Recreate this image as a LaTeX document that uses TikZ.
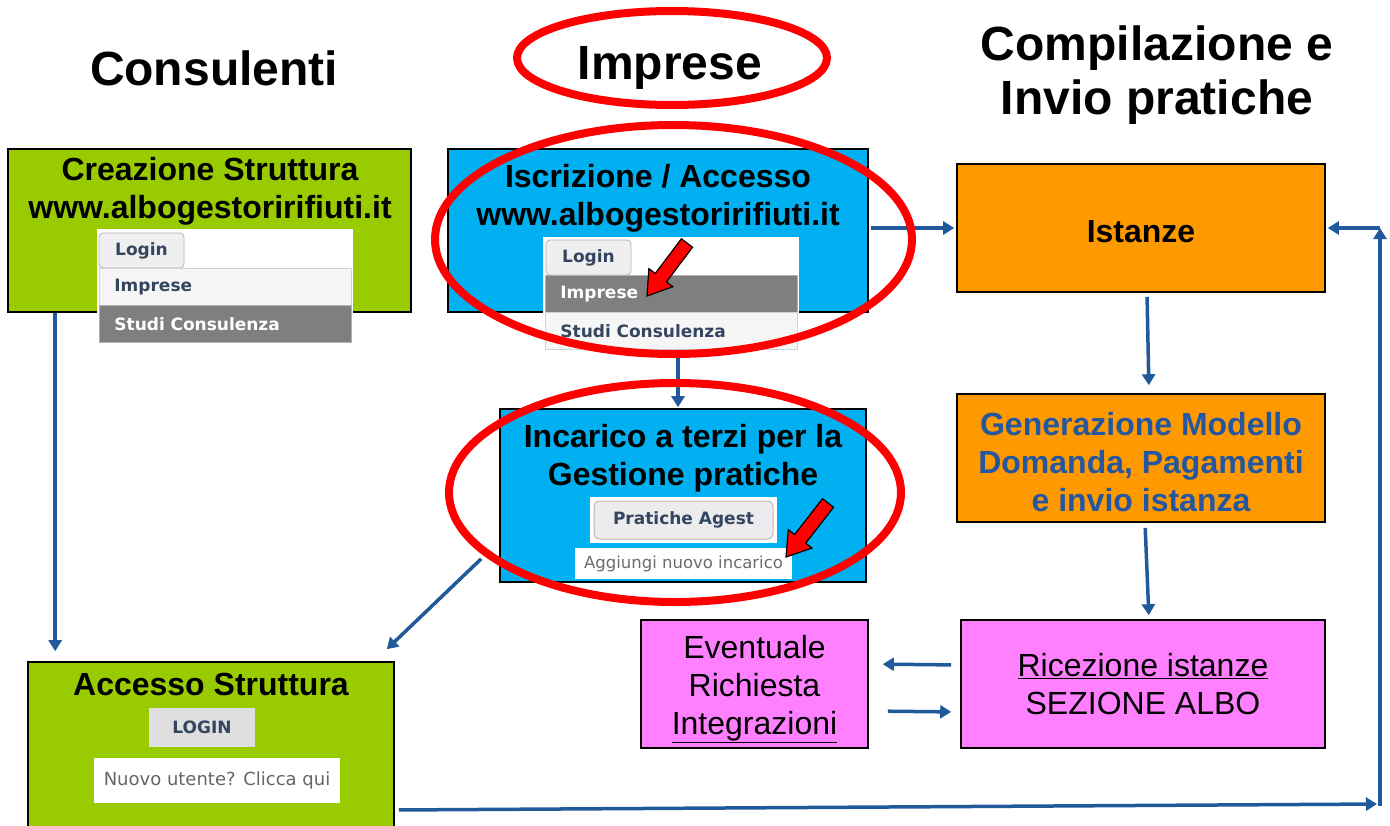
\documentclass[tikz,border=0pt]{standalone}
\usepackage{fontspec}
\setmainfont{Liberation Sans}
\newfontfamily\uifont{DejaVu Sans}
\usepackage{tikz}
\usetikzlibrary{shapes,arrows.meta,positioning,calc}

\definecolor{albogreen}{HTML}{99CC00}
\definecolor{alboblue}{HTML}{00B0F0}
\definecolor{alboorange}{HTML}{FF9900}
\definecolor{albopink}{HTML}{FF80FF}
\definecolor{flowblue}{HTML}{215A9A}
\definecolor{titleblue}{HTML}{2457A0}
\definecolor{uiblue}{HTML}{34465F}
\definecolor{uigray}{HTML}{7F7F7F}

\tikzset{
  box/.style={draw=black, line width=1.6pt, inner sep=0pt},
  flow/.style={draw=flowblue, line width=3.5pt, -{Triangle[length=11pt,width=13pt]}},
  ring/.style={draw=red, line width=8pt},
  redarrow/.style={fill=red, draw=black, line width=1.2pt, line join=miter},
  title/.style={font=\fontsize{32}{38}\selectfont\bfseries, align=center},
  plain/.style={font=\fontsize{32}{38}\selectfont, align=center},
  heading/.style={font=\fontsize{48}{54}\selectfont\bfseries, align=center},
  ui/.style={font=\uifont\fontsize{17}{20}\selectfont\bfseries, text=uiblue, inner sep=0pt},
  tabbox/.style={ui, fill=blue!4!gray!12, draw=gray!60, line width=0.8pt, rounded corners=4pt,
    minimum width=85pt, minimum height=35pt},
  rowlight/.style={ui, fill=gray!7, draw=gray!35, line width=0.8pt, anchor=north west,
    minimum height=37pt, text width=222pt, inner xsep=15pt, align=left},
  rowdark/.style={rowlight, fill=uigray, draw=gray!60, text=white},
  menubg/.style={fill=white, inner sep=0pt},
}

\begin{document}
\begin{tikzpicture}[x=1pt,y=-1pt]
    \clip (0,0) rectangle (1390,825);

    % Headings
    \node[heading] (hcons) at (214,68) {Consulenti};
    \node[heading] (himp) at (670,68) {Imprese};
    \node[heading] (hcomp) at (1157,75) {Compilazione e\\Invio pratiche};

    % Boxes
    \node[box, fill=albogreen, minimum width=403pt, minimum height=163pt] (creazione) at (209.5,230.5) {};
    \node[box, fill=alboblue, minimum width=420pt, minimum height=163pt] (iscrizione) at (658,230.5) {};
    \node[box, fill=alboblue, minimum width=366pt, minimum height=173pt] (incarico) at (683,495.5) {};
    \node[box, fill=albogreen, minimum width=366pt, minimum height=170pt] (accesso) at (211,747) {};
    \node[box, fill=alboorange, minimum width=368pt, minimum height=128pt] (istanze) at (1141,228) {};
    \node[box, fill=alboorange, minimum width=368pt, minimum height=128pt] (generazione) at (1141,458) {};
    \node[box, fill=albopink, minimum width=227pt, minimum height=128pt] (eventuale) at (754.5,684) {};
    \node[box, fill=albopink, minimum width=364pt, minimum height=128pt] (ricezione) at (1143,684) {};

    % Box texts
    \node[title] (tcreazione) at (210,191) {Creazione Struttura\\www.albogestoririfiuti.it};
    \node[title] (tiscrizione) at (658,198) {Iscrizione / Accesso\\www.albogestoririfiuti.it};
    \node[title] (tincarico) at (683,458) {Incarico a terzi per la\\Gestione pratiche};
    \node[title] (taccesso) at (211,684) {Accesso Struttura};
    \node[title] (tistanze) at (1141,232) {Istanze};
    \node[title, text=titleblue] (tgenerazione) at (1141,462) {Generazione Modello\\Domanda, Pagamenti\\e invio istanza};
    \node[plain] (teventuale) at (754.5,689) {Eventuale\\Richiesta\\\underline{Integrazioni}};
    \node[plain] (tricezione) at (1143,684) {\underline{Ricezione istanze}\\SEZIONE ALBO};

    % Login menu (Consulenti)
    \node[menubg, minimum width=256pt, minimum height=113pt] (menuA) at (225,285.5) {};
    \node[tabbox] (tabA) at (141.5,250.5) {Login};
    \node[rowlight] (impA) at (99,268) {Imprese};
    \node[rowdark] (studiA) at (99,305) {Studi Consulenza};

    % Login menu (Imprese)
    \node[menubg, minimum width=256pt, minimum height=116pt] (menuB) at (671,295) {};
    \node[tabbox] (tabB) at (588.5,257.5) {Login};
    \node[rowdark] (impB) at (545,275) {Imprese};
    \node[rowlight] (studiB) at (545,312) {Studi Consulenza};

    % Incarico widgets
    \node[menubg, minimum width=187pt, minimum height=46pt] (agestbg) at (683.5,520) {};
    \node[ui, fill=blue!4!gray!14, draw=gray!55, line width=1pt, rounded corners=5pt,
      minimum width=179pt, minimum height=38pt] (agest) at (683.5,520) {Pratiche Agest};
    \node[menubg, font=\uifont\fontsize{16.5}{20}\selectfont, text=gray!85!black,
      minimum width=217pt, minimum height=31pt] (nuovoinc) at (683.5,563.5) {Aggiungi nuovo incarico};

    % Accesso widgets
    \node[ui, fill=gray!25, minimum width=106pt, minimum height=39pt] (login) at (202,727.5) {LOGIN};
    \node[menubg, font=\uifont\fontsize{18}{20}\selectfont, text=gray!80!black,
      minimum width=246pt, minimum height=45pt] (nuovout) at (217,780.5) {Nuovo utente? Clicca qui};

    % Connectors
    \coordinate (loopA) at (1380,804);
    \coordinate (loopB) at (1380,228);
    \draw[flow, shorten >=10pt] ([xshift=48pt]creazione.south west) -- ([xshift=28pt]accesso.north west);
    \draw[flow] ([xshift=-18pt,yshift=24pt]incarico.south west) -- ([xshift=-8pt,yshift=12pt]accesso.north east);
    \draw[flow, shorten >=1pt] ([xshift=-5pt]incarico.north |- menuB.south) -- ([xshift=-5pt]incarico.north);
    \draw[flow, shorten <=2pt, shorten >=2pt] (iscrizione.east |- istanze.west) -- (istanze.west);
    \draw[flow, shorten <=4pt, shorten >=8pt] ([xshift=6pt]istanze.south) -- ([xshift=8pt]generazione.north);
    \draw[flow, shorten <=5pt, shorten >=4pt] ([xshift=4pt]generazione.south) -- ([xshift=6pt]ricezione.north);
    \draw[flow, shorten <=9pt, shorten >=14pt] ([yshift=19pt]ricezione.west) -- ([yshift=20pt]eventuale.east);
    \draw[flow, shorten <=19pt, shorten >=9pt] ([yshift=-27pt]eventuale.east) -- ([yshift=-28pt]ricezione.west);
    \draw[flow, shorten <=4pt, shorten >=3pt] ([yshift=-63pt]accesso.east) -- (loopA);
    \draw[flow] ([yshift=-2pt]loopA) -- (loopB);
    \draw[flow, shorten >=2pt] (loopB) -- (istanze.east);

    % Red highlights
    \draw[ring] (672,58) ellipse [x radius=155pt, y radius=47pt];
    \draw[ring] (673.5,239.5) ellipse [x radius=238.5pt, y radius=114.5pt];
    \draw[ring] (675,492.5) ellipse [x radius=226pt, y radius=109.5pt];

    \foreach \ax/\ay/\bx/\by in {687/243/647/296, 828/503/786/557} {
        \coordinate (ta) at (\ax,\ay);
        \coordinate (tb) at (\bx,\by);
        \coordinate (th) at ($(tb)!23pt!(ta)$);
        \draw[redarrow] ($(ta)!7pt!90:(tb)$) -- ($(th)!7pt!-90:(ta)$) -- ($(th)!15pt!-90:(ta)$)
            -- (tb) -- ($(th)!15pt!90:(ta)$) -- ($(th)!7pt!90:(ta)$) -- ($(ta)!7pt!-90:(tb)$) -- cycle;
    }
\end{tikzpicture}
\end{document}
